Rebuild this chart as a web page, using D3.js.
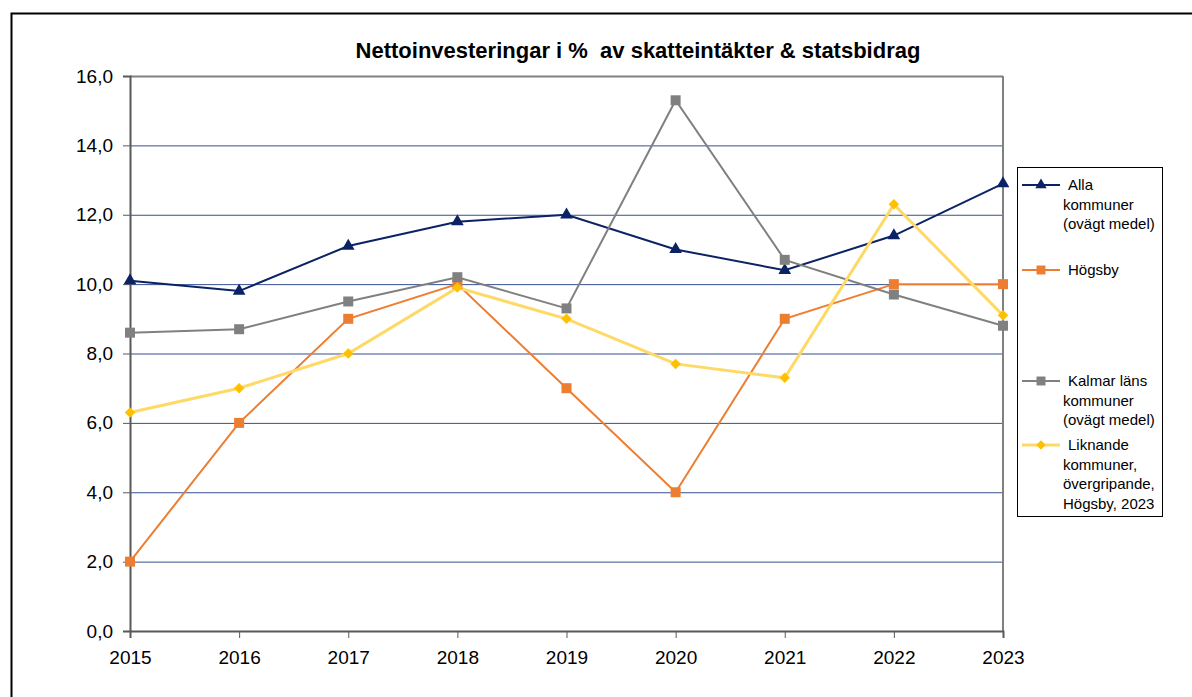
<!DOCTYPE html>
<html><head><meta charset="utf-8">
<script src="https://cdn.jsdelivr.net/npm/d3@7"></script>
<style>
body{margin:0;background:#fff;}
svg{display:block;font-family:"Liberation Sans",Arial,sans-serif;}
</style></head><body>
<svg id="c" width="1192" height="697"></svg>
<script>
const years = ["2015","2016","2017","2018","2019","2020","2021","2022","2023"];
const alla = [10.1, 9.8, 11.1, 11.8, 12.0, 11.0, 10.4, 11.4, 12.9];
const hogsby = [2.0, 6.0, 9.0, 10.0, 7.0, 4.0, 9.0, 10.0, 10.0];
const kalmar = [8.6, 8.7, 9.5, 10.2, 9.3, 15.3, 10.7, 9.7, 8.8];
const liknande = [6.3, 7.0, 8.0, 9.9, 9.0, 7.7, 7.3, 12.3, 9.1];
const yTicks = [0,2,4,6,8,10,12,14,16];
const title = "Nettoinvesteringar i %  av skatteintäkter & statsbidrag";

const series = [
  {name:["Alla","kommuner","(ovägt medel)"], values:alla, color:"#0b2265", mcolor:"#0b2265", width:2, shape:d3.symbolTriangle, msize:70, rot:0, ly:185},
  {name:["Högsby"], values:hogsby, color:"#ed7d31", mcolor:"#ed7d31", width:2, shape:d3.symbolSquare, msize:100, rot:0, ly:270},
  {name:["Kalmar läns","kommuner","(ovägt medel)"], values:kalmar, color:"#808080", mcolor:"#808080", width:2, shape:d3.symbolSquare, msize:100, rot:0, ly:381},
  {name:["Liknande","kommuner,","övergripande,","Högsby, 2023"], values:liknande, color:"#ffd966", mcolor:"#ffc000", width:3, shape:d3.symbolSquare, msize:55, rot:45, ly:445}
];

const svg = d3.select("#c");
const L=130, R=1003, T=76, B=631;
const x = d3.scalePoint().domain(years).range([L,R]);
const y = d3.scaleLinear().domain([0,16]).range([B,T]);

// outer frame
svg.append("rect").attr("x",11.5).attr("y",13.5).attr("width",1200).attr("height",700)
  .attr("fill","none").attr("stroke","#000").attr("stroke-width",2);

// title
svg.append("text").attr("x",638).attr("y",58).attr("text-anchor","middle")
  .attr("font-size",22).attr("font-weight","bold").attr("fill","#000")
  .attr("xml:space","preserve").style("white-space","pre").text(title);

// gridlines
svg.append("g").selectAll("line").data(yTicks.filter(d=>d>0&&d<16)).join("line")
  .attr("x1",L).attr("x2",R).attr("y1",d=>y(d)+0.5).attr("y2",d=>y(d)+0.5)
  .attr("stroke","#34508f").attr("stroke-width",1);

// plot border top & right
svg.append("line").attr("x1",L).attr("x2",R).attr("y1",T+0.5).attr("y2",T+0.5).attr("stroke","#808080").attr("stroke-width",2);
svg.append("line").attr("x1",R).attr("x2",R).attr("y1",T).attr("y2",B).attr("stroke","#808080").attr("stroke-width",2);

// y axis
const yAxis = d3.axisLeft(y).tickValues(yTicks).tickSize(7).tickPadding(10)
  .tickFormat(d=>d3.format(".1f")(d).replace(".",","));
const gy = svg.append("g").attr("transform",`translate(${L},0)`).call(yAxis);
gy.select(".domain").attr("stroke","#595959").attr("stroke-width",2);
gy.selectAll(".tick line").attr("stroke","#595959");
gy.selectAll("text").attr("font-size",19).attr("fill","#000").attr("font-family","Liberation Sans, Arial");

// x axis
const xAxis = d3.axisBottom(x).tickSize(7).tickPadding(13);
const gx = svg.append("g").attr("transform",`translate(0,${B})`).call(xAxis);
gx.select(".domain").attr("stroke","#595959").attr("stroke-width",2);
gx.selectAll(".tick line").attr("stroke","#595959");
gx.selectAll("text").attr("font-size",19).attr("fill","#000").attr("font-family","Liberation Sans, Arial");

// lines
const line = d3.line().x((d,i)=>x(years[i])).y(d=>y(d));
series.forEach(s=>{
  svg.append("path").datum(s.values).attr("d",line).attr("fill","none")
    .attr("stroke",s.color).attr("stroke-width",s.width);
});
series.forEach(s=>{
  svg.append("g").selectAll("path").data(s.values).join("path")
    .attr("d",d3.symbol().type(s.shape).size(s.msize))
    .attr("transform",(d,i)=>`translate(${x(years[i])},${y(d)}) rotate(${s.rot})`)
    .attr("fill",s.mcolor);
});

// legend
const lg = svg.append("g");
lg.append("rect").attr("x",1017.5).attr("y",167.5).attr("width",145).attr("height",349)
  .attr("fill","#fff").attr("stroke","#000").attr("stroke-width",1);
series.forEach(s=>{
  lg.append("line").attr("x1",1022).attr("x2",1060).attr("y1",s.ly).attr("y2",s.ly)
    .attr("stroke",s.color).attr("stroke-width",s.width);
  lg.append("path").attr("d",d3.symbol().type(s.shape).size(s.msize*0.8))
    .attr("transform",`translate(1041,${s.ly}) rotate(${s.rot})`).attr("fill",s.mcolor);
  s.name.forEach((t,i)=>{
    lg.append("text").attr("x",i===0?1068:1063).attr("y",s.ly+5+i*19.5)
      .attr("font-size",15).attr("fill","#000").text(t);
  });
});
</script>
</body></html>
